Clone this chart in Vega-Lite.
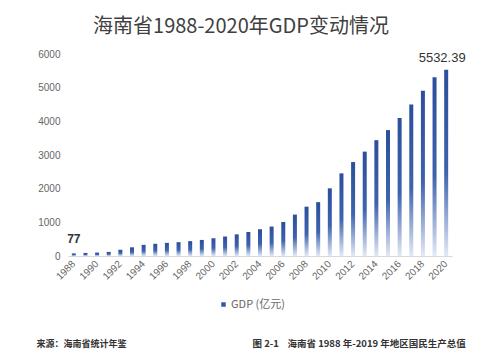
{
  "$schema": "https://vega.github.io/schema/vega-lite/v6.json",
  "width": 384,
  "height": 202,
  "autosize": {"type": "none"},
  "padding": {"left": 68, "top": 54, "right": 47, "bottom": 107},
  "background": "white",
  "title": {
    "text": "海南省1988-2020年GDP变动情况",
    "font": "Noto Sans CJK SC",
    "fontSize": 20,
    "fontWeight": "normal",
    "color": "#404040",
    "anchor": "middle",
    "baseline": "middle",
    "offset": 2,
    "dx": -19
  },
  "config": {
    "view": {"stroke": null},
    "font": "Noto Sans CJK SC"
  },
  "data": {
    "values": [
      {"year": 1988, "gdp": 77, "series": "GDP (亿元)"},
      {"year": 1989, "gdp": 91, "series": "GDP (亿元)"},
      {"year": 1990, "gdp": 102, "series": "GDP (亿元)"},
      {"year": 1991, "gdp": 121, "series": "GDP (亿元)"},
      {"year": 1992, "gdp": 185, "series": "GDP (亿元)"},
      {"year": 1993, "gdp": 258, "series": "GDP (亿元)"},
      {"year": 1994, "gdp": 331, "series": "GDP (亿元)"},
      {"year": 1995, "gdp": 363, "series": "GDP (亿元)"},
      {"year": 1996, "gdp": 390, "series": "GDP (亿元)"},
      {"year": 1997, "gdp": 411, "series": "GDP (亿元)"},
      {"year": 1998, "gdp": 442, "series": "GDP (亿元)"},
      {"year": 1999, "gdp": 477, "series": "GDP (亿元)"},
      {"year": 2000, "gdp": 527, "series": "GDP (亿元)"},
      {"year": 2001, "gdp": 579, "series": "GDP (亿元)"},
      {"year": 2002, "gdp": 643, "series": "GDP (亿元)"},
      {"year": 2003, "gdp": 714, "series": "GDP (亿元)"},
      {"year": 2004, "gdp": 795, "series": "GDP (亿元)"},
      {"year": 2005, "gdp": 875, "series": "GDP (亿元)"},
      {"year": 2006, "gdp": 1010, "series": "GDP (亿元)"},
      {"year": 2007, "gdp": 1230, "series": "GDP (亿元)"},
      {"year": 2008, "gdp": 1465, "series": "GDP (亿元)"},
      {"year": 2009, "gdp": 1600, "series": "GDP (亿元)"},
      {"year": 2010, "gdp": 2010, "series": "GDP (亿元)"},
      {"year": 2011, "gdp": 2455, "series": "GDP (亿元)"},
      {"year": 2012, "gdp": 2790, "series": "GDP (亿元)"},
      {"year": 2013, "gdp": 3100, "series": "GDP (亿元)"},
      {"year": 2014, "gdp": 3440, "series": "GDP (亿元)"},
      {"year": 2015, "gdp": 3740, "series": "GDP (亿元)"},
      {"year": 2016, "gdp": 4100, "series": "GDP (亿元)"},
      {"year": 2017, "gdp": 4500, "series": "GDP (亿元)"},
      {"year": 2018, "gdp": 4910, "series": "GDP (亿元)"},
      {"year": 2019, "gdp": 5310, "series": "GDP (亿元)"},
      {"year": 2020, "gdp": 5532.39, "series": "GDP (亿元)"}
    ]
  },
  "encoding": {
    "x": {
      "field": "year",
      "type": "ordinal",
      "axis": {
        "values": [1988, 1990, 1992, 1994, 1996, 1998, 2000, 2002, 2004, 2006, 2008, 2010, 2012, 2014, 2016, 2018, 2020],
        "labelAngle": -45,
        "labelAlign": "right",
        "labelBaseline": "middle",
        "labelPadding": 6,
        "labelFontSize": 10,
        "labelColor": "#666666",
        "labelFont": "Liberation Sans",
        "labelOverlap": false,
        "ticks": false,
        "domainColor": "#d9d9d9",
        "grid": false,
        "title": "来源：海南省统计年鉴",
        "titleFont": "Noto Sans CJK SC",
        "titleFontSize": 9,
        "titleFontWeight": "bold",
        "titleColor": "#333333",
        "titleAngle": 0,
        "titleAlign": "left",
        "titleBaseline": "middle",
        "titleX": -32,
        "titleY": 87
      }
    },
    "y": {
      "field": "gdp",
      "type": "quantitative",
      "scale": {"domain": [0, 6000], "nice": false},
      "axis": {
        "values": [0, 1000, 2000, 3000, 4000, 5000, 6000],
        "format": "d",
        "grid": false,
        "domain": false,
        "ticks": false,
        "labelOverlap": false,
        "labelPadding": 8,
        "labelFontSize": 10,
        "labelColor": "#666666",
        "labelFont": "Liberation Sans",
        "title": "图 2-1\u00a0\u00a0\u00a0 海南省 1988 年-2019 年地区国民生产总值",
        "titleFont": "Noto Sans CJK SC",
        "titleFontSize": 9.5,
        "titleFontWeight": "bold",
        "titleColor": "#333333",
        "titleAngle": 0,
        "titleAlign": "left",
        "titleBaseline": "middle",
        "titleX": 184,
        "titleY": 289
      }
    }
  },
  "layer": [
    {
      "mark": {
        "type": "bar",
        "width": 4,
        "fill": {
          "gradient": "linear",
          "x1": 0, "y1": 0, "x2": 0, "y2": 1,
          "stops": [
            {"offset": 0, "color": "#2c4f9c"},
            {"offset": 0.55, "color": "#3d62ae"},
            {"offset": 1, "color": "#e3e9f6"}
          ]
        }
      },
      "encoding": {
        "color": {
          "field": "series",
          "type": "nominal",
          "scale": {"range": ["#3457a5"]},
          "legend": {
            "title": null,
            "orient": "none",
            "legendX": 150,
            "legendY": 245,
            "padding": 0,
            "symbolType": "square",
            "symbolSize": 20,
            "labelFontSize": 11,
            "labelColor": "#666666",
            "labelFont": "Noto Sans CJK SC",
            "labelOffset": 2
          }
        }
      }
    },
    {
      "transform": [{"filter": "datum.year == 1988"}],
      "mark": {"type": "text", "dy": -14, "baseline": "middle", "fontSize": 12, "fontWeight": "bold", "color": "#333333", "font": "Liberation Sans"},
      "encoding": {
        "text": {"field": "gdp", "type": "quantitative", "format": "~f"}
      }
    },
    {
      "transform": [{"filter": "datum.year == 2020"}],
      "mark": {"type": "text", "dy": -12, "dx": -4, "baseline": "middle", "fontSize": 13, "color": "#333333", "font": "Liberation Sans"},
      "encoding": {
        "text": {"field": "gdp", "type": "quantitative", "format": "~f"}
      }
    }
  ]
}
